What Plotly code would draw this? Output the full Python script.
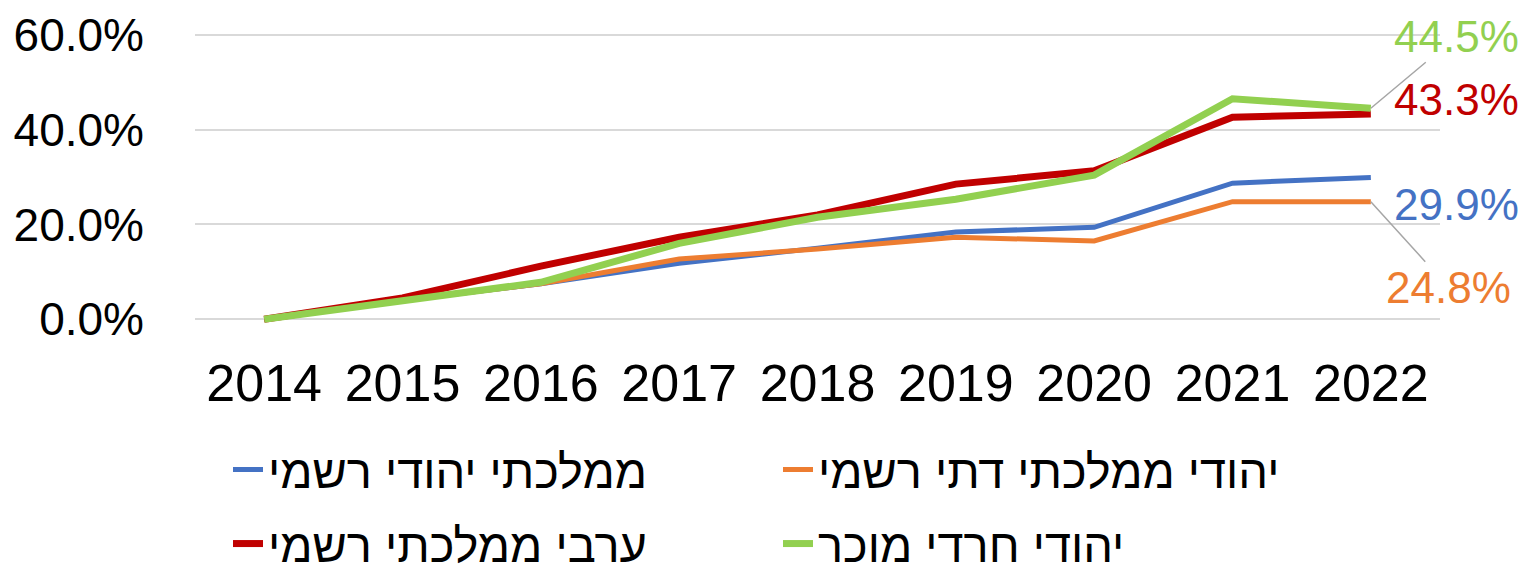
import plotly.graph_objects as go

years = ["2014", "2015", "2016", "2017", "2018", "2019", "2020", "2021", "2022"]

jewish_state = [0, 4.0, 7.5, 11.8, 15.0, 18.4, 19.4, 28.7, 29.9]
jewish_state_religious = [0, 4.0, 7.5, 12.7, 14.8, 17.3, 16.5, 24.8, 24.8]
arab_state = [0, 4.5, 11.2, 17.3, 22.0, 28.5, 31.3, 42.6, 43.3]
haredi_recognized = [0, 4.0, 7.8, 16.0, 21.5, 25.3, 30.4, 46.5, 44.5]

names = ["ממלכתי יהודי רשמי", "יהודי ממלכתי דתי רשמי", "ערבי ממלכתי רשמי", "יהודי חרדי מוכר"]
series = [jewish_state, jewish_state_religious, arab_state, haredi_recognized]
colors = ["#4472C4", "#ED7D31", "#C00000", "#92D050"]
widths = [5, 5, 7, 7]
legends = ["legend", "legend", "legend2", "legend2"]

FONT = "Liberation Sans"
W, H = 1529, 570
OFF = 8  # page body margin

fig = go.Figure()
for name, vals, c, w, lg in zip(names, series, colors, widths, legends):
    fig.add_trace(go.Scatter(x=years, y=vals, name=name, mode="lines",
                             line=dict(color=c, width=w), legend=lg))

# end-point labels (ax, ay offsets in px), leader lines for green and orange
label_pos = {
    "#92D050": (86, -72, True),
    "#C00000": (86, -14, False),
    "#4472C4": (86, 27, False),
    "#ED7D31": (78, 86, True),
}
for vals, c in zip(series, colors):
    ax, ay, arrow = label_pos[c]
    fig.add_annotation(x=len(years) - 1, y=vals[-1], text=f"{vals[-1]:.1f}%",
                       showarrow=True, ax=ax, ay=ay, arrowhead=0, arrowwidth=1.5,
                       arrowcolor="#A6A6A6" if arrow else "rgba(0,0,0,0)",
                       font=dict(family=FONT, size=44, color=c))

legend_common = dict(orientation="h", entrywidth=505, xref="container", yref="container",
                     xanchor="left", yanchor="middle", bgcolor="rgba(0,0,0,0)",
                     font=dict(family=FONT, size=47, color="#000000"))

fig.update_layout(
    width=W, height=H,
    margin=dict(l=195 - OFF, r=89 + OFF, t=30 - OFF, b=246 + OFF, autoexpand=False),
    plot_bgcolor="white", paper_bgcolor="white",
    font=dict(family=FONT, color="#000000"),
    legend=dict(x=(228 - OFF) / W, y=1 - (470 - OFF) / H, **legend_common),
    legend2=dict(x=(228 - OFF) / W, y=1 - (544 - OFF) / H, **legend_common),
    xaxis=dict(type="category", range=[-0.5, 8.5], showgrid=False, showline=False, ticks="",
               ticklabelstandoff=24, automargin=False,
               tickfont=dict(family=FONT, size=52)),
    yaxis=dict(range=[-1, 61], tickvals=[0, 20, 40, 60], ticktext=["0.0%", "20.0%", "40.0%", "60.0%"],
               gridcolor="#D9D9D9", gridwidth=2, zeroline=False, showline=False, automargin=False,
               ticklabelstandoff=50, tickfont=dict(family=FONT, size=46)),
)

fig.write_html("out.html")
